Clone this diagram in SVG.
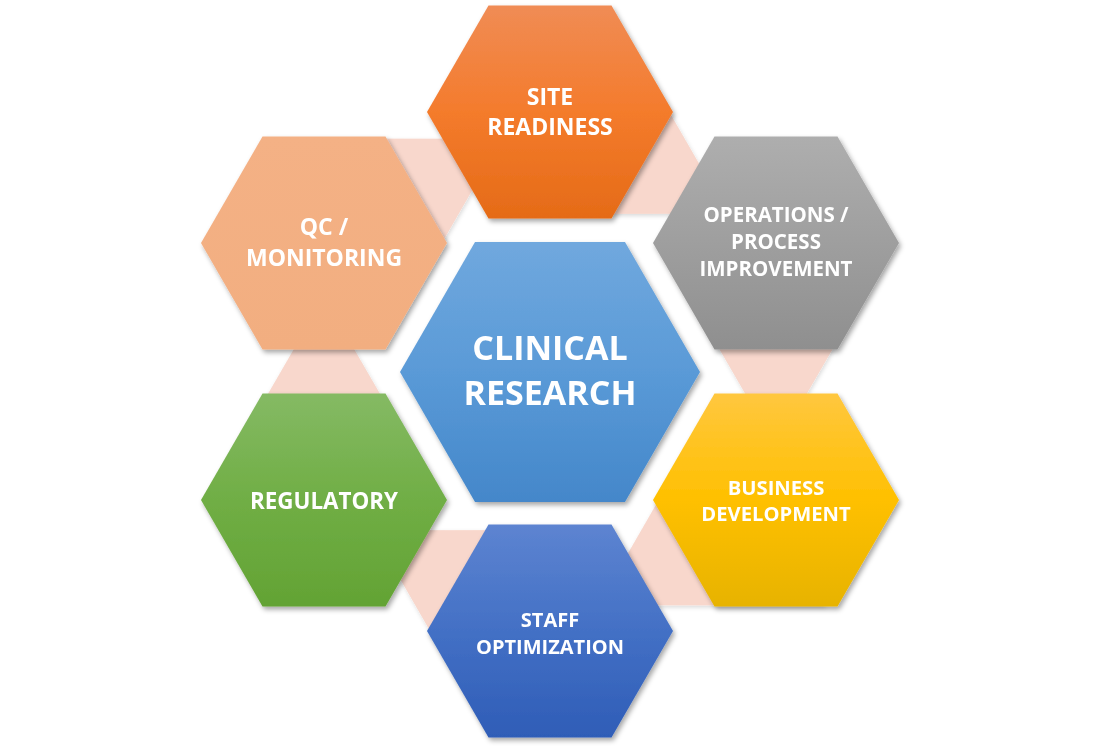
<svg xmlns="http://www.w3.org/2000/svg" xmlns:xlink="http://www.w3.org/1999/xlink" width="1100" height="749" viewBox="0 0 1100 749">
<style>
.lbl{font-family:"Open Sans","Liberation Sans",sans-serif;font-weight:bold;fill:#FFFFFF;text-anchor:middle}
.conn{fill:#F8D7CC}
</style>
<defs>
<filter id="sh" x="-20%" y="-20%" width="140%" height="140%">
<feDropShadow dx="2" dy="3" stdDeviation="2.5" flood-color="#000" flood-opacity="0.35"/>
</filter>
<filter id="shc" x="-20%" y="-20%" width="140%" height="140%">
<feDropShadow dx="1" dy="2" stdDeviation="2" flood-color="#000" flood-opacity="0.15"/>
</filter>
<polygon id="hexS" points="-123,0 -61.5,-106.5 61.5,-106.5 123,0 61.5,106.5 -61.5,106.5"/>
<polygon id="tri" points="662,250 890,250 776,447"/>
<linearGradient id="gSite" x1="0" y1="0" x2="0" y2="1">
<stop offset="0" stop-color="#F08C55"/><stop offset="0.5" stop-color="#F47B2C"/><stop offset="1" stop-color="#E56B17"/>
</linearGradient>
<linearGradient id="gOps" x1="0" y1="0" x2="0" y2="1">
<stop offset="0" stop-color="#AEAEAE"/><stop offset="1" stop-color="#8F8F8F"/>
</linearGradient>
<linearGradient id="gQc" x1="0" y1="0" x2="0" y2="1">
<stop offset="0" stop-color="#F4B185"/><stop offset="1" stop-color="#F2AE80"/>
</linearGradient>
<linearGradient id="gCen" x1="0" y1="0" x2="0" y2="1">
<stop offset="0" stop-color="#70A8DE"/><stop offset="0.5" stop-color="#5A9AD7"/><stop offset="1" stop-color="#4487CA"/>
</linearGradient>
<linearGradient id="gReg" x1="0" y1="0" x2="0" y2="1">
<stop offset="0" stop-color="#85BA64"/><stop offset="0.5" stop-color="#70AE45"/><stop offset="1" stop-color="#63A334"/>
</linearGradient>
<linearGradient id="gBus" x1="0" y1="0" x2="0" y2="1">
<stop offset="0" stop-color="#FFC73F"/><stop offset="0.5" stop-color="#FFC000"/><stop offset="1" stop-color="#E7B300"/>
</linearGradient>
<linearGradient id="gStaff" x1="0" y1="0" x2="0" y2="1">
<stop offset="0" stop-color="#5D84D1"/><stop offset="0.5" stop-color="#4370C5"/><stop offset="1" stop-color="#2F5DB7"/>
</linearGradient>
</defs>
<rect width="1100" height="749" fill="#FFFFFF"/>
<g id="connectors" class="conn" filter="url(#shc)">
<use xlink:href="#tri" href="#tri"/>
<use xlink:href="#tri" href="#tri" transform="rotate(-60 550 372)"/>
<use xlink:href="#tri" href="#tri" transform="rotate(-120 550 372)"/>
<use xlink:href="#tri" href="#tri" transform="rotate(180 550 372)"/>
<use xlink:href="#tri" href="#tri" transform="rotate(120 550 372)"/>
<use xlink:href="#tri" href="#tri" transform="rotate(60 550 372)"/>
</g>
<g id="site-readiness" transform="translate(550 112)">
<use xlink:href="#hexS" href="#hexS" fill="url(#gSite)" filter="url(#sh)"/>
<text class="lbl" font-size="23" x="0" y="-7">SITE</text>
<text class="lbl" font-size="23" x="0" y="23">READINESS</text>
</g>
<g id="operations" transform="translate(776 243)">
<use xlink:href="#hexS" href="#hexS" fill="url(#gOps)" filter="url(#sh)"/>
<text class="lbl" font-size="20.5" x="0" y="-21">OPERATIONS /</text>
<text class="lbl" font-size="20.5" x="0" y="6">PROCESS</text>
<text class="lbl" font-size="20.5" x="0" y="33">IMPROVEMENT</text>
</g>
<g id="business-development" transform="translate(776 500)">
<use xlink:href="#hexS" href="#hexS" fill="url(#gBus)" filter="url(#sh)"/>
<text class="lbl" font-size="20.2" x="0" y="-5">BUSINESS</text>
<text class="lbl" font-size="20.2" x="0" y="21">DEVELOPMENT</text>
</g>
<g id="staff-optimization" transform="translate(550 631)">
<use xlink:href="#hexS" href="#hexS" fill="url(#gStaff)" filter="url(#sh)"/>
<text class="lbl" font-size="20" x="0" y="-4">STAFF</text>
<text class="lbl" font-size="20" x="0" y="23">OPTIMIZATION</text>
</g>
<g id="regulatory" transform="translate(324 500)">
<use xlink:href="#hexS" href="#hexS" fill="url(#gReg)" filter="url(#sh)"/>
<text class="lbl" font-size="22.4" x="0" y="9">REGULATORY</text>
</g>
<g id="qc-monitoring" transform="translate(324 243)">
<use xlink:href="#hexS" href="#hexS" fill="url(#gQc)" filter="url(#sh)"/>
<text class="lbl" font-size="23" x="0" y="-8">QC /</text>
<text class="lbl" font-size="23" x="0" y="23">MONITORING</text>
</g>
<g id="clinical-research" transform="translate(550 372)">
<polygon points="-150,0 -75,-130 75,-130 150,0 75,130 -75,130" fill="url(#gCen)" filter="url(#sh)"/>
<text class="lbl" font-size="34" x="0" y="-12">CLINICAL</text>
<text class="lbl" font-size="34" x="0" y="33">RESEARCH</text>
</g>
</svg>
